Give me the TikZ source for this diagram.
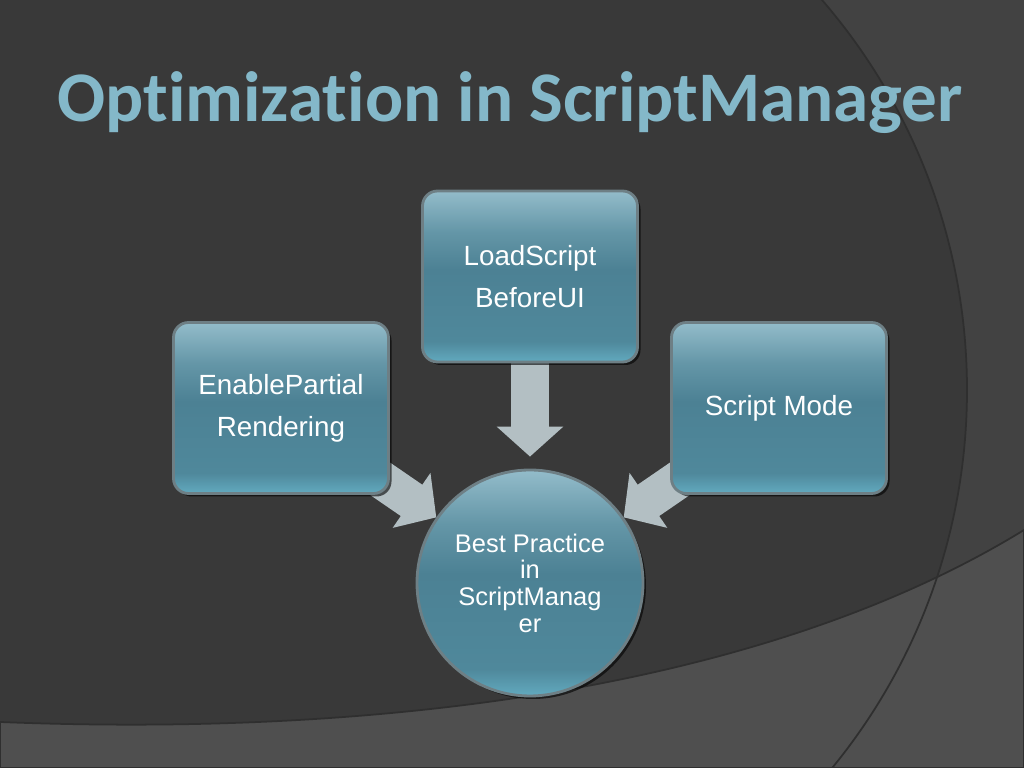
\documentclass[tikz,border=0pt]{standalone}
\usepackage{fontspec}
\setmainfont{Liberation Sans}
\newfontfamily\headfont{Carlito}[Ligatures=NoCommon]
\usetikzlibrary{arrows.meta,backgrounds,shadows}
\definecolor{boxtop}{HTML}{93BCCA}
\definecolor{boxfade}{HTML}{6496A7}
\definecolor{boxmid}{HTML}{4C8194}
\definecolor{boxlow}{HTML}{4F889B}
\definecolor{boxbot}{HTML}{62AABF}
\pgfdeclareverticalshading{glassfill}{100bp}{color(0bp)=(boxbot); color(25bp)=(boxbot); color(31bp)=(boxlow); color(52bp)=(boxmid); color(63bp)=(boxfade); color(75bp)=(boxtop); color(100bp)=(boxtop)}

\begin{document}
\begin{tikzpicture}
  \definecolor{slate}{HTML}{393939}
  \definecolor{outer}{HTML}{424242}
  \definecolor{swoosh}{HTML}{4F4F4F}
  \definecolor{rim}{HTML}{2F2F2F}
  \definecolor{titleblue}{HTML}{84B8C9}
  \definecolor{boxedge}{HTML}{6E7F85}
  \definecolor{silver}{HTML}{B3BFC3}
  \tikzset{box/.style={rounded corners=3mm,minimum width=4.3cm,minimum height=3.42cm,draw=boxedge,line width=1.6pt,shading=glassfill,text=white,align=center,font=\fontsize{15.8}{24}\selectfont,drop shadow={shadow xshift=0.6mm,shadow yshift=-0.6mm,opacity=0.6,fill=black}},
    hub/.style={circle,minimum size=4.52cm,inner sep=0pt,draw=boxedge,line width=1.6pt,shading=glassfill,text=white,align=center,font=\fontsize{14.5}{15.2}\selectfont,drop shadow={shadow xshift=0.6mm,shadow yshift=-0.6mm,opacity=0.6,fill=black}},
    flow/.style={silver,line width=0.76cm,-{Triangle[length=6mm 0 0,width=13mm 0 0]}}}
  \useasboundingbox (0,0) rectangle (20.48,15.36);
  % backdrop
  \begin{scope}[on background layer]
    \fill[outer] (0,0) rectangle (20.48,15.36);
    \begin{scope}
      \clip (0,0) rectangle (20.48,15.36);
      \fill[slate] (7.4,7.56) circle (11.94);
      \fill[swoosh,draw=rim,line width=1pt] (0,0.92) .. controls (8,0.6) and (15.5,1.7) .. (20.48,4.76) -- (20.48,0) -- (0,0) -- cycle;
      \draw[rim,line width=1pt] (7.4,7.56) circle (11.94);
    \end{scope}
  \end{scope}
  \node[anchor=base,text=titleblue,font=\headfont\bfseries\fontsize{40.5}{48}\selectfont] (title) at (10.2,12.92) {Optimization in ScriptManager};
  \node[box] (load) at (10.6,9.83) {LoadScript\\BeforeUI};
  \node[box] (enable) at (5.62,7.2) {EnablePartial\\Rendering};
  \node[box] (mode) at (15.58,7.2) {Script Mode};
  \node[hub] (best) at (10.6,3.7) {Best Practice\\in\\ScriptManag\\er};
  \begin{scope}[on background layer]
    \draw[flow,shorten >=2.4mm] (load.south) -- (best.north);
    \draw[flow] ([shift={(-0.6,0.6)}]enable.south east) -- (best.145);
    \draw[flow] ([shift={(0.6,0.6)}]mode.south west) -- (best.35);
  \end{scope}
\end{tikzpicture}
\end{document}
